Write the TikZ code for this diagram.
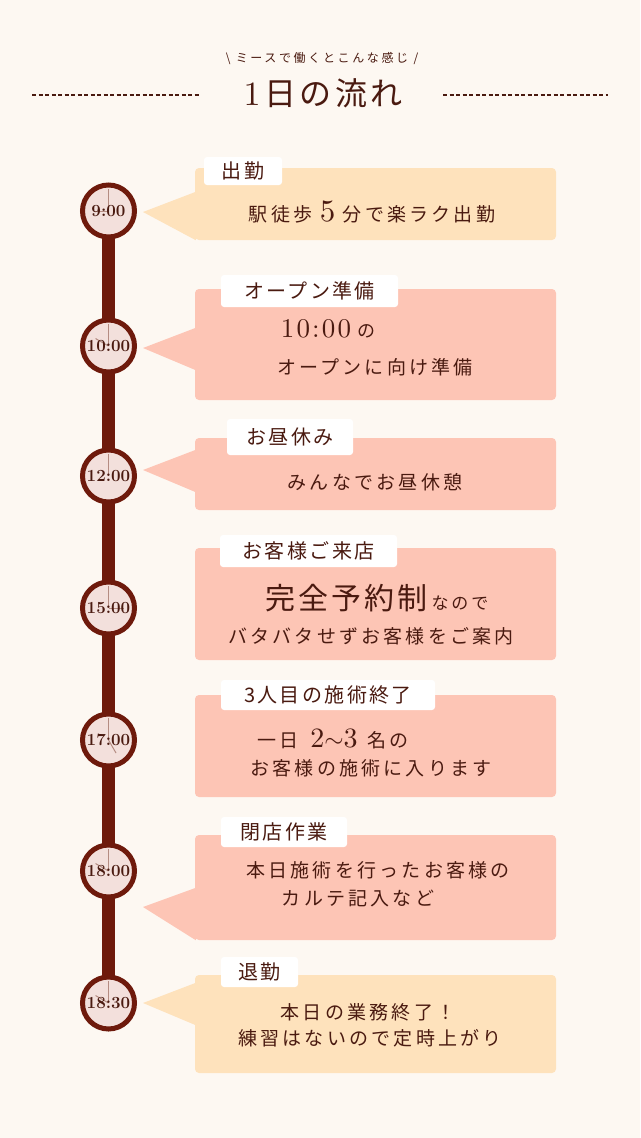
\documentclass[tikz,border=0pt]{standalone}
\usepackage{fontspec}
\newfontfamily\jp{Noto Sans CJK JP}[LetterSpace=17]
\newfontfamily\jptag{Noto Sans CJK JP}[LetterSpace=12]
\newfontfamily\jpbig{Noto Sans CJK JP}[LetterSpace=10]
\newfontfamily\jpsub{Noto Sans CJK JP}[LetterSpace=22]
\newfontfamily\num{lmroman10-regular.otf}[LetterSpace=8]
\definecolor{paper}{HTML}{FDF8F2}
\definecolor{maroon}{HTML}{6E1A0C}
\definecolor{face}{HTML}{F3E0DC}
\definecolor{ink}{HTML}{4A1A10}
\definecolor{peach}{HTML}{FEE2BC}
\definecolor{salmon}{HTML}{FDC5B5}
\definecolor{handcol}{HTML}{B48C82}
\tikzset{
  clock/.style={circle,draw=maroon,line width=5pt,fill=face,minimum size=52pt,inner sep=0pt,
    text=ink,font=\fontsize{17}{17}\selectfont\bfseries,
    path picture={\draw[handcol,line width=1pt] (path picture bounding box.center) -- +(0,22pt);
      \draw[handcol,line width=1pt] (path picture bounding box.center) -- +(#1:15pt);}},
  clock/.default=90,
  card/.style={rectangle,rounded corners=4pt,minimum width=361pt,inner sep=0pt,fill=#1},
  tag/.style={rectangle,rounded corners=3pt,fill=white,inner sep=0pt,text=ink,
    font=\fontsize{20}{20}\selectfont\jptag},
  txt/.style={inner sep=0pt,text=ink,font=\fontsize{19}{19}\selectfont\jp},
  bar/.style={maroon,line width=13pt,shorten <=-3pt,shorten >=-3pt},
  rule/.style={ink,line width=1.6pt,dash pattern=on 4pt off 2.5pt}
}
\begin{document}
\begin{tikzpicture}[x=1pt,y=-1pt]
  \useasboundingbox (0,0) rectangle (640,1138);
  \fill[paper] (0,0) rectangle (640,1138);
  % title
  \node[inner sep=0pt,text=ink,font=\fontsize{12}{12}\selectfont\jpsub] (sub) at (322,58) {\textbackslash\ ミースで働くとこんな感じ /};
  \node[inner sep=0pt,text=ink,font=\fontsize{32}{32}\selectfont\jpbig] (title) at (323,93) {{\fontsize{34}{34}\selectfont\num 1}\hspace{4pt}日の流れ};
  \draw[rule] (32,95) -- (200,95);
  \draw[rule] (443,95) -- (608,95);
  % clocks
  \node[clock=180] (c1) at (108.5,211) {9:00};
  \node[clock=150] (c2) at (108.5,346) {10:00};
  \node[clock=90] (c3) at (108.5,476) {12:00};
  \node[clock=0] (c4) at (108.5,608) {15:00};
  \node[clock=-60] (c5) at (108.5,740) {17:00};
  \node[clock=150] (c6) at (108.5,871) {18:00};
  \node[clock=150] (c7) at (108.5,1003) {18:30};
  \foreach \a/\b in {c1/c2,c2/c3,c3/c4,c4/c5,c5/c6,c6/c7}
    \draw[bar] (\a) -- (\b);
  % cards
  \node[card=peach,minimum height=72pt] (b1) at (375.5,204) {};
  \node[card=salmon,minimum height=111pt] (b2) at (375.5,344.5) {};
  \node[card=salmon,minimum height=72pt] (b3) at (375.5,474) {};
  \node[card=salmon,minimum height=112pt] (b4) at (375.5,604) {};
  \node[card=salmon,minimum height=102pt] (b5) at (375.5,746) {};
  \node[card=salmon,minimum height=105pt] (b6) at (375.5,887.5) {};
  \node[card=peach,minimum height=98pt] (b7) at (375.5,1024) {};
  % pointers
  \fill[peach] ([shift={(1,24)}]b1.north west) -- ([shift={(6,1)}]c1.east) -- ([xshift=1pt]b1.south west) -- cycle;
  \fill[salmon] ([shift={(1,39)}]b2.north west) -- ([shift={(6,2)}]c2.east) -- ([shift={(1,-30)}]b2.south west) -- cycle;
  \fill[salmon] ([shift={(1,12)}]b3.north west) -- ([shift={(6,-6)}]c3.east) -- ([shift={(1,-18)}]b3.south west) -- cycle;
  \fill[salmon] ([shift={(1,53)}]b6.north west) -- ([shift={(6,36)}]c6.east) -- ([xshift=1pt]b6.south west) -- cycle;
  \fill[peach] ([shift={(1,8)}]b7.north west) -- ([shift={(6,0)}]c7.east) -- ([shift={(1,-48)}]b7.south west) -- cycle;
  % tags
  \node[tag,minimum width=78pt,minimum height=28pt] (t1) at (243,171) {出勤};
  \node[tag,minimum width=177pt,minimum height=32pt] (t2) at (309.5,291) {オープン準備};
  \node[tag,minimum width=126pt,minimum height=36pt] (t3) at (290,437) {お昼休み};
  \node[tag,minimum width=177pt,minimum height=32pt] (t4) at (308.5,551) {お客様ご来店};
  \node[tag,minimum width=214pt,minimum height=30pt] (t5) at (328,695) {3人目の施術終了};
  \node[tag,minimum width=126pt,minimum height=30pt] (t6) at (284,832) {閉店作業};
  \node[tag,minimum width=77pt,minimum height=30pt] (t7) at (259.5,972) {退勤};
  % texts
  \node[txt] (b1a) at (372,212) {駅徒歩 {\fontsize{31}{31}\selectfont\num 5} 分で楽ラク出勤};
  \node[txt] (b2a) at (328,329) {{\fontsize{27}{27}\selectfont\num 10:00}\hspace{6pt}{\fontsize{18}{18}\selectfont の}};
  \node[txt] (b2b) at (375,367) {オープンに向け準備};
  \node[txt] (b3a) at (375,482) {みんなでお昼休憩};
  \node[txt] (b4a) at (377,598) {{\fontsize{30}{30}\selectfont\jpbig 完全予約制}\hspace{4pt}{\fontsize{17}{17}\selectfont なので}};
  \node[txt] (b4b) at (371,636) {バタバタせずお客様をご案内};
  \node[txt] (b5a) at (333,739) {一日\hspace{12pt}{\fontsize{28}{28}\selectfont\num 2$\sim$3}\hspace{10pt}名の};
  \node[txt] (b5b) at (371,768) {お客様の施術に入ります};
  \node[txt] (b6a) at (378,870) {本日施術を行ったお客様の};
  \node[txt] (b6b) at (358,898) {カルテ記入など};
  \node[txt] (b7a) at (368,1012) {本日の業務終了！};
  \node[txt] (b7b) at (370,1038) {練習はないので定時上がり};
\end{tikzpicture}
\end{document}
